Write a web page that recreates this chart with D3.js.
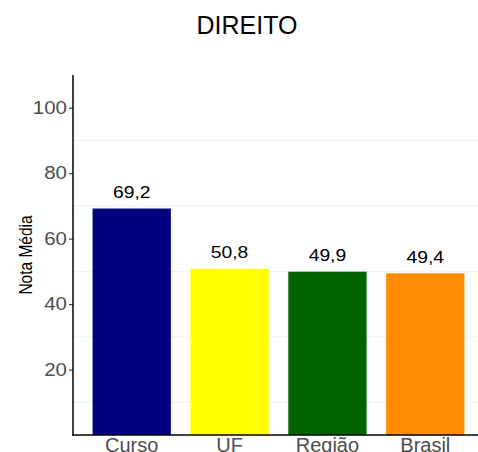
<!DOCTYPE html>
<html>
<head>
<meta charset="utf-8">
<script src="https://cdn.jsdelivr.net/npm/d3@7"></script>
<style>
  body { margin: 0; background: #fff; }
  svg { display: block; font-family: "Liberation Sans", Arial, sans-serif; }
</style>
</head>
<body>
<script>
//Data
var categories = ["Curso", "UF", "Região", "Brasil"];
var values = [69.2, 50.8, 49.9, 49.4];
var colors = ["#000080", "#FFFF00", "#006400", "#FF8C00"];
var yTicks = [20, 40, 60, 80, 100];
var minorTicks = [10, 30, 50, 70, 90];

var w = 478;
var h = 452;
var padLeft = 73, padTop = 75, padBottom = 435, padRight = 484;
var stretch = 1.17; //numbers in the reference are a bit wide

var fmt = function (v) { return d3.format(".1f")(v).replace(".", ","); };

var xScale = d3.scaleBand()
  .domain(categories)
  .range([padLeft, padRight])
  .paddingInner(0.2)
  .paddingOuter(0.2);

var yScale = d3.scaleLinear()
  .domain([0, 110])
  .range([padBottom, padTop]);

var svg = d3.select("body").append("svg").attr("width", w).attr("height", h);

//Light grid lines
svg.append("g")
  .selectAll("line")
  .data(minorTicks)
  .enter()
  .append("line")
  .attr("x1", padLeft)
  .attr("x2", w)
  .attr("y1", function (d) { return yScale(d); })
  .attr("y2", function (d) { return yScale(d); })
  .attr("stroke", "#f0f0f0")
  .attr("stroke-width", 1);

//Bars
svg.append("g")
  .selectAll("rect")
  .data(values)
  .enter()
  .append("rect")
  .attr("x", function (d, i) { return xScale(categories[i]); })
  .attr("width", xScale.bandwidth())
  .attr("y", function (d) { return yScale(d); })
  .attr("height", function (d) { return yScale(0) - yScale(d); })
  .attr("fill", function (d, i) { return colors[i]; });

//Value labels
svg.append("g")
  .selectAll("text")
  .data(values)
  .enter()
  .append("text")
  .attr("transform", function (d, i) {
    var cx = xScale(categories[i]) + xScale.bandwidth() / 2;
    return "translate(" + cx + "," + (yScale(d) - 10.7) + ") scale(" + stretch + ",1)";
  })
  .attr("text-anchor", "middle")
  .attr("font-size", "16.5px")
  .attr("fill", "#000")
  .text(fmt);

//Axes
var yAxis = d3.axisLeft(yScale).tickValues(yTicks).tickSize(4).tickPadding(2);
var gy = svg.append("g")
  .attr("transform", "translate(" + padLeft + ",0)")
  .call(yAxis);
gy.select(".domain").remove();
gy.selectAll(".tick line").attr("stroke", "#333").attr("stroke-width", 1.1);
gy.selectAll(".tick text")
  .attr("font-size", "17.5px")
  .attr("fill", "#4d4d4d")
  .attr("font-family", null)
  .attr("x", -6 / stretch)
  .attr("transform", "scale(" + stretch + ",1)");

var xAxis = d3.axisBottom(xScale).tickSize(0).tickPadding(3);
var gx = svg.append("g")
  .attr("transform", "translate(0," + padBottom + ")")
  .call(xAxis);
gx.select(".domain").remove();
gx.selectAll(".tick text").attr("font-size", "20px").attr("fill", "#4d4d4d").attr("font-family", null);

svg.append("line")
  .attr("x1", padLeft).attr("x2", padLeft)
  .attr("y1", padTop).attr("y2", padBottom + 0.75)
  .attr("stroke", "#000").attr("stroke-width", 1.5);
svg.append("line")
  .attr("x1", padLeft - 0.75).attr("x2", w)
  .attr("y1", padBottom).attr("y2", padBottom)
  .attr("stroke", "#000").attr("stroke-width", 1.5);

//Y label
svg.append("text")
  .attr("transform", "translate(32," + (padTop + padBottom) / 2 + ") scale(" + stretch + ",1) rotate(-90)")
  .attr("text-anchor", "middle")
  .attr("font-size", "15.5px")
  .attr("fill", "#000")
  .text("Nota Média");

//Title
svg.append("text")
  .attr("x", 247)
  .attr("y", 34)
  .attr("text-anchor", "middle")
  .attr("font-size", "25px")
  .attr("fill", "#000")
  .text("DIREITO");
</script>
</body>
</html>
